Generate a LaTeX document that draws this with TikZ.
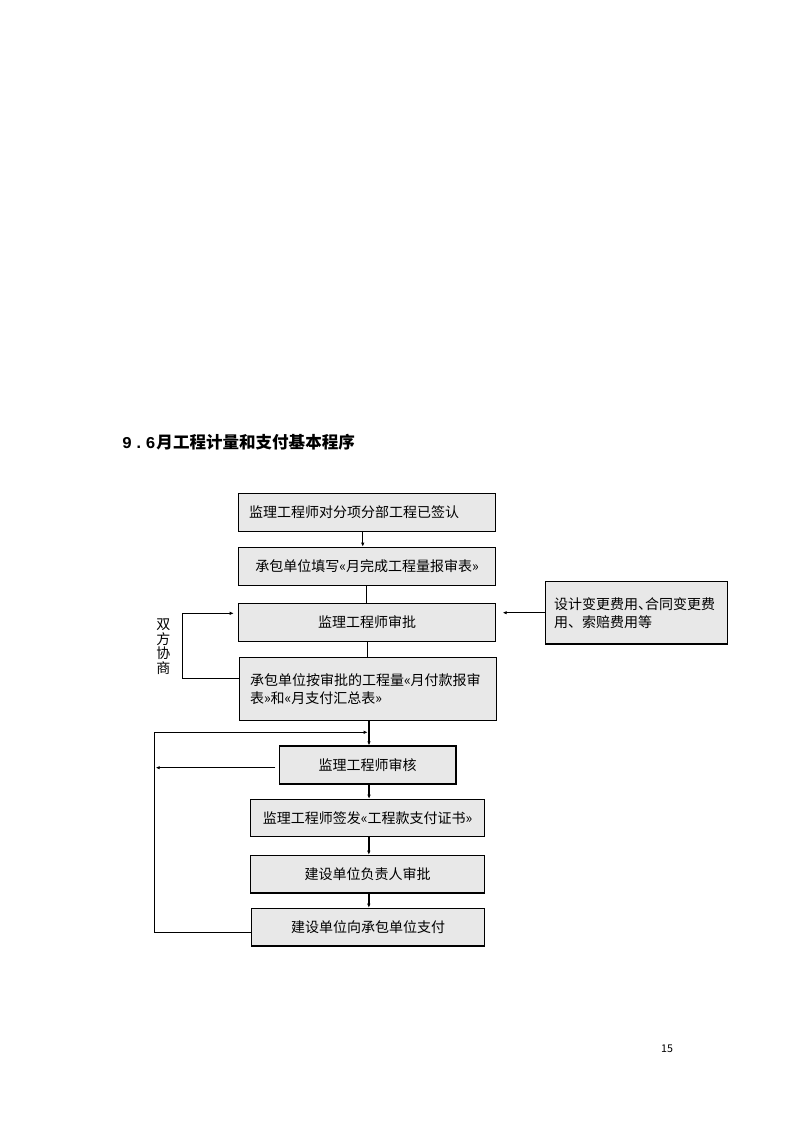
\documentclass[tikz,border=0pt]{standalone}
\usepackage{fontspec}
\newfontfamily\cjk{Noto Sans CJK SC}
\newfontfamily\monof{Liberation Mono}
\usetikzlibrary{arrows.meta}
\definecolor{boxgray}{RGB}{232,232,232}
\begin{document}
\begin{tikzpicture}[x=0.75pt,y=-0.75pt,
  box/.style={draw=black, line width=0.9pt, fill=boxgray, inner sep=0pt,
    font=\cjk\fontsize{10.5}{13.5}\selectfont},
  thinl/.style={line width=0.75pt},
  heavy/.style={line width=1.5pt},
  arr/.style={-{Latex[length=3pt,width=2.6pt]}},
  lbl/.style={font=\cjk\fontsize{10.5}{10.9}\selectfont, inner sep=0pt}
]
\useasboundingbox (0,0) rectangle (794,1123);

% title
\node[anchor=west, inner sep=0pt, font=\cjk\bfseries\fontsize{12.4}{14}\selectfont] (title) at (121,442)
  {{\monof\bfseries\makebox[8.8pt]{9}\makebox[8.8pt]{.}\makebox[8.8pt]{6}}月工程计量和支付基本程序};

% boxes
\node[box, minimum width=193pt, minimum height=28.5pt, text width=177pt, inner xsep=8pt, align=left] (b1) at (367,512.3) {监理工程师对分项分部工程已签认};
\node[box, minimum width=193pt, minimum height=28.5pt] (b2) at (367,566.3) {承包单位填写«月完成工程量报审表»};
\node[box, minimum width=193pt, minimum height=28.5pt] (b3) at (367,622.3) {监理工程师审批};
\node[box, minimum width=193pt, minimum height=47.5pt, text width=177pt, inner xsep=8pt, align=left] (b4) at (368,689) {承包单位按审批的工程量«月付款报审\\表»和«月支付汇总表»};
\node[box, minimum width=136.5pt, minimum height=46.7pt, text width=124pt, inner xsep=6.25pt, align=left] (rb) at (636.7,612.9) {设计变更费用\makebox[5.25pt][l]{、}合同变更费\\用、索赔费用等};
\node[box, minimum width=132.5pt, minimum height=28.5pt] (b5) at (367.7,765) {监理工程师审核};
\node[box, minimum width=175.2pt, minimum height=28pt] (b6) at (367.5,818) {监理工程师签发«工程款支付证书»};
\node[box, minimum width=175.2pt, minimum height=28.3pt] (b7) at (367.5,874.2) {建设单位负责人审批};
\node[box, minimum width=175pt, minimum height=28.3pt] (b8) at (368,927.2) {建设单位向承包单位支付};

% side label
\node[lbl, align=center] (xs) at (163.3,646.5) {双\\方\\协\\商};

% page number
\node[inner sep=0pt, font=\cjk\fontsize{8}{9}\selectfont] (pg) at (667,1049) {15};

% vertical connectors
\draw[thinl,arr] ([xshift=-3.2pt]b1.south) -- ([xshift=-3.2pt]b2.north);
\draw[thinl] ([xshift=-0.75pt]b2.south) -- ([xshift=-0.75pt]b3.north);
\draw[thinl] (b3.south) -- (b3.south |- b4.north);
\draw[heavy,arr] ([xshift=0.75pt]b4.south) -- ([xshift=0.75pt]b4.south |- b5.north);
\draw[heavy,arr] ([xshift=1pt]b5.south) -- ([xshift=1pt]b5.south |- b6.north);
\draw[heavy,arr] ([xshift=1pt]b6.south) -- ([xshift=1pt]b6.south |- b7.north);
\draw[heavy,arr] ([xshift=1pt]b7.south) -- ([xshift=1pt]b7.south |- b8.north);

% negotiation loop
\coordinate (ca) at (182.7,678);
\coordinate (cb) at (182.7,613.3);
\draw[thinl,arr] (b4.west |- ca) -- (ca) -- (cb) -- ([xshift=-3pt]b3.west |- cb);

% right input
\coordinate (rt) at (502.7,612.7);
\draw[thinl,arr] (rb.west |- rt) -- (rt);

% lower loop
\coordinate (lb) at (154.7,932.7);
\coordinate (lt) at (154.7,732.3);
\coordinate (j) at (369,732.3);
\draw[thinl,arr] (b8.west |- lb) -- (lb) -- (lt) -- ([xshift=-1pt]j);
\coordinate (lm) at (155.7,767.7);
\draw[thinl,arr] ([xshift=-2.5pt]b5.west |- lm) -- (lm);
\end{tikzpicture}
\end{document}
